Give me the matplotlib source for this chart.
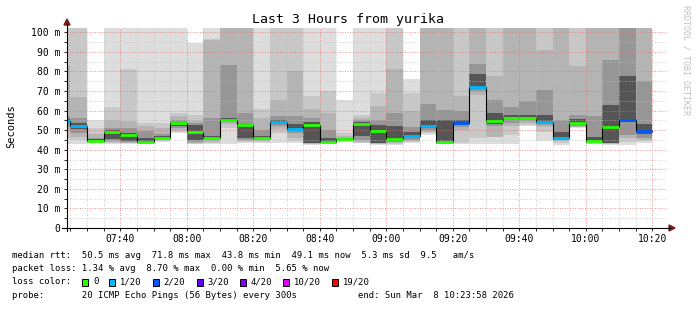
import numpy as np
import matplotlib
matplotlib.use("Agg")
import matplotlib.pyplot as plt
import matplotlib.dates as mdates
from matplotlib.lines import Line2D
from matplotlib.patches import Polygon, Rectangle
from datetime import datetime, timedelta

W, H = 697, 310
MONO = "DejaVu Sans Mono"

# 5 minute rounds, the first one (07:20-07:25) is only partly in view
t_first = datetime(2026, 3, 8, 7, 20)
n_rounds = 36
starts = [t_first + timedelta(minutes=5 * i) for i in range(n_rounds)]
t_end = datetime(2026, 3, 8, 10, 23, 58)
t_begin = t_end - timedelta(hours=3)

# median rtt (ms) and lost pings (of 20) per round
median = [54.5, 52.3, 44.6, 49.0, 47.3, 44.2, 46.0, 53.6, 48.9, 45.8, 55.3, 52.4,
          45.8, 54.2, 50.4, 52.8, 44.2, 45.6, 53.1, 49.6, 45.3, 47.0, 52.1, 43.9,
          53.6, 72.0, 54.5, 56.0, 56.0, 54.2, 46.0, 53.6, 44.6, 51.8, 55.0, 49.4]
loss = [1, 1, 0, 0, 0, 0, 0, 0, 0, 0, 0, 0,
        0, 1, 1, 0, 0, 0, 0, 0, 0, 1, 1, 0,
        2, 1, 0, 0, 0, 1, 1, 0, 0, 0, 2, 2]

# smoke: sorted ping spread per round, outer pair (hi1/lo1) to inner pair (hi5/lo5)
hi1 = [130, 130, 55.3, 130, 130, 130, 130, 130, 94.5, 130, 130, 130,
       130, 130, 130, 130, 130, 65.6, 130, 130, 130, 76.3, 130, 130,
       130, 130, 130, 130, 130, 130, 130, 130, 130, 130, 130, 130]
hi2 = [130, 130, 51, 62, 81.4, 53.6, 53.5, 59, 57.5, 96.6, 130, 130,
       60.8, 130, 130, 67.3, 69.8, 48.5, 57.9, 69, 130, 69, 130, 130,
       130, 130, 130, 130, 130, 130, 130, 130, 130, 130, 130, 130]
hi3 = [83, 67, 48, 55, 54.5, 52.2, 51, 57, 55.4, 96, 130, 130,
       56, 65.6, 80, 60.6, 58.8, 46.8, 56.2, 62.2, 81.4, 59.6, 130, 130,
       67.6, 130, 77.5, 130, 130, 91.1, 130, 82.6, 130, 130, 130, 130]
hi4 = [57, 56, 46.2, 51, 51, 49.5, 48, 55, 53.8, 56, 83.5, 58.7,
       50, 57, 57, 56, 50, 46.2, 55, 55, 58.8, 51.5, 63.5, 60.4,
       60, 84, 65.6, 62, 65, 70.3, 55.3, 58, 57, 85.6, 130, 74.9]
hi5 = [55.5, 53.5, 45.3, 50, 48.5, 46, 46.8, 54.3, 52.8, 47, 56, 53,
       47, 55.2, 53, 54, 46, 45.9, 54, 52.5, 52, 49, 55, 55,
       55, 78.8, 58.7, 57.5, 58, 57.5, 49, 55.5, 46.5, 63, 77.8, 53]
lo5 = [53.5, 50.5, 44.2, 45.3, 44.5, 43.9, 45.6, 52.3, 44.8, 45.3, 54.8, 45.8,
       45.3, 53, 49.5, 43.6, 44, 45.3, 47, 43.5, 44.5, 45.8, 51, 43.6,
       52.5, 71, 53, 55, 55.5, 53.5, 45.2, 52.8, 44.2, 43.5, 54, 48]
lo4 = [52, 48.5, 43.9, 44.6, 44, 43.7, 45.3, 51.2, 44, 44.8, 54.2, 45,
       44.8, 52, 48.5, 43.3, 43.8, 45, 45, 43.2, 44, 45, 50, 43.4,
       51.5, 70, 52, 53.5, 54.5, 52.5, 44.8, 52.2, 43.8, 43.2, 47.5, 46]
lo3 = [49, 46.5, 43.7, 44, 43.6, 43.5, 45, 50, 43.5, 44, 53.2, 44.5,
       44.3, 50.5, 46, 43.1, 43.6, 44.7, 44, 43, 43.5, 44.4, 49.3, 43.2,
       50.3, 68, 46.6, 52, 53.5, 51.5, 44.3, 51.8, 43.4, 43, 46, 45]
lo2 = [46, 45, 43.5, 43.5, 43.3, 43.3, 44.6, 49.3, 43.1, 43.5, 51, 44,
       43.8, 48.5, 44.3, 42.9, 43.4, 44.4, 43.6, 42.8, 43, 43.8, 48.5, 43,
       43.5, 46, 46.4, 47.7, 52.5, 49.3, 43.5, 51.4, 43.1, 42.8, 44, 44.3]
lo1 = [43, 43, 43.2, 42.8, 43, 43, 44, 48.3, 42.7, 42.8, 43, 43.5,
       43.2, 43.3, 43.3, 42.6, 43.2, 44.2, 43.3, 42.6, 42.6, 43.2, 47.7, 42.8,
       43, 43, 42.8, 43, 52, 44.3, 42.6, 51.1, 42.8, 42.6, 42.6, 43.6]

smoke_colors = ["#dddddd", "#c8c8c8", "#b4b4b4", "#969696", "#555555"]
loss_colors = {0: "#26ff00", 1: "#00b8ff", 2: "#0059ff", 3: "#5e00ff",
               4: "#7e00ff", 10: "#dd00ff", 19: "#ff0000"}
loss_labels = ["0", "1/20", "2/20", "3/20", "4/20", "10/20", "19/20"]


def fx(px):
    return px / W


def fy(py):
    return 1 - py / H


fig = plt.figure(figsize=(W / 100, H / 100), dpi=100)
ax = fig.add_axes([fx(67), 82 / H, 598.5 / W, 199.6 / H])

x = mdates.date2num(starts)
step = 5 / 1440
layers = [(lo1, hi1), (lo2, hi2), (lo3, hi3), (lo4, hi4), (lo5, hi5)]
for (lo, hi), col in zip(layers, smoke_colors):
    lo = np.array(lo)
    hi = np.array(hi)
    ax.bar(x, hi - lo, bottom=lo, width=step, align="edge", color=col,
           linewidth=0, zorder=1)

med = np.array(median)
ax.step(np.append(x, x[-1] + step), np.append(med, med[-1]), where="post",
        color="black", lw=0.8, zorder=3)
ax.hlines(med, x, x + step, colors=[loss_colors[l] for l in loss], lw=2.0,
          zorder=4)

ax.set_xlim(mdates.date2num(t_begin), mdates.date2num(t_end))
ax.set_ylim(0, 102)

ax.xaxis.set_major_locator(mdates.MinuteLocator(byminute=[0, 20, 40]))
ax.xaxis.set_minor_locator(mdates.MinuteLocator(byminute=range(0, 60, 5)))
ax.xaxis.set_major_formatter(mdates.DateFormatter("%H:%M"))
ax.set_yticks(np.arange(0, 101, 10))
ax.set_yticks(np.arange(0, 101, 5), minor=True)
ax.set_yticklabels(["0"] + ["%d m" % v for v in range(10, 101, 10)])

ax.set_axisbelow(False)
ax.grid(which="minor", color="#c0c0c0", linestyle=(0, (1, 2)), lw=0.6)
ax.grid(which="major", color="#e07070", linestyle=(0, (1, 2)), lw=0.6)

for s in ax.spines.values():
    s.set_visible(False)
ax.tick_params(which="both", labelsize=7, length=2, width=0.6, pad=3)
ax.tick_params(axis="x", pad=2.5)
for lab in ax.get_xticklabels() + ax.get_yticklabels():
    lab.set_family(MONO)

# axis lines with arrow heads
fig.add_artist(Line2D([fx(67), fx(67)], [fy(231), fy(24)], color="black",
                      lw=0.8, transform=fig.transFigure))
fig.add_artist(Line2D([fx(62), fx(670)], [fy(228), fy(228)], color="black",
                      lw=0.8, transform=fig.transFigure))
fig.add_artist(Polygon([(fx(64), fy(25)), (fx(70), fy(25)), (fx(67), fy(19))],
                       closed=True, color="#7a1a1a", transform=fig.transFigure))
fig.add_artist(Polygon([(fx(669), fy(225)), (fx(669), fy(231)), (fx(675), fy(228))],
                       closed=True, color="#7a1a1a", transform=fig.transFigure))

fig.text(fx(347.5), fy(19), "Last 3 Hours from yurika", ha="center",
         va="center", family=MONO, size=9.5)
fig.text(fx(11), fy(126), "Seconds", rotation=90, ha="center", va="center",
         family=MONO, size=7.5)
fig.text(fx(686), fy(60), "RRDTOOL / TOBI OETIKER", rotation=270,
         ha="center", va="center", family=MONO, size=6, color="#c0c0c0")

leg = dict(ha="left", va="center", family=MONO, size=6.4)
fig.text(fx(12.3), fy(255), "median rtt:  50.5 ms avg  71.8 ms max  43.8 ms min"
         "  49.1 ms now  5.3 ms sd  9.5   am/s", **leg)
fig.text(fx(12.3), fy(268.5), "packet loss: 1.34 % avg  8.70 % max  0.00 % min"
         "  5.65 % now", **leg)
fig.text(fx(12.3), fy(282), "loss color:", **leg)
box_x = [81.7, 109.3, 152.7, 196.7, 240, 283.3, 332.3]
lab_x = [93.3, 120, 163.3, 207.3, 250.7, 294, 343.3]
for (k, col), bx, lx, lab in zip(loss_colors.items(), box_x, lab_x, loss_labels):
    fig.add_artist(Rectangle((fx(bx), fy(285.5)), 6 / W, 7 / H, facecolor=col,
                             edgecolor="black", lw=0.7, transform=fig.transFigure))
    fig.text(fx(lx), fy(282), lab, **leg)
fig.text(fx(12.3), fy(296), "probe:       20 ICMP Echo Pings (56 Bytes) every 300s",
         **leg)
fig.text(fx(358), fy(296), "end: Sun Mar  8 10:23:58 2026", **leg)

fig.savefig("out.png", dpi=100)
